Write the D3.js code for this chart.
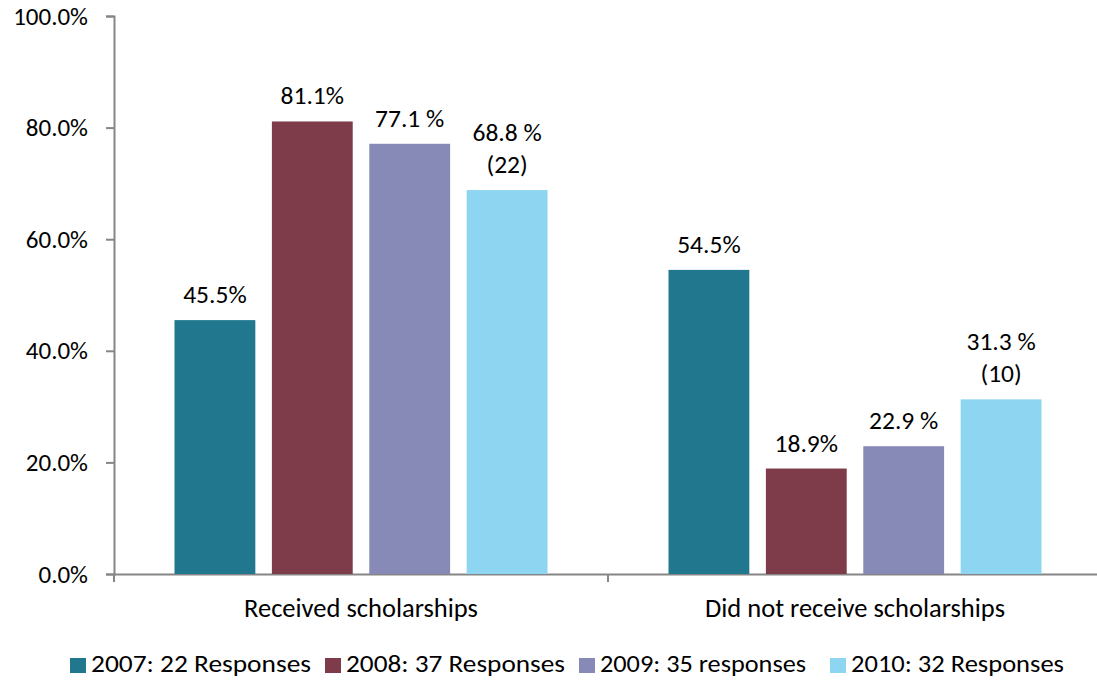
<!DOCTYPE html>
<html>
<head>
<meta charset="utf-8">
<script src="https://cdn.jsdelivr.net/npm/d3@7"></script>
<style>
  html, body { margin: 0; padding: 0; background: #fff; }
  svg { display: block; }
  text { font-family: Carlito, Calibri, Lato, "Noto Sans", sans-serif; fill: #000; }
</style>
</head>
<body>
<svg id="chart" width="1097" height="681"></svg>
<script>
// Scholarship responses by year
const categories = ["Received scholarships", "Did not receive scholarships"];
const seriesNames = ["2007: 22 Responses", "2008: 37 Responses", "2009: 35 responses", "2010: 32 Responses"];
const seriesColors = ["#21788E", "#7E3C4B", "#878AB6", "#8DD5F0"];
const values2007 = [45.5, 54.5];
const values2008 = [81.1, 18.9];
const values2009 = [77.1, 22.9];
const values2010 = [68.8, 31.3];
const valueLabels2007 = [["45.5%"], ["54.5%"]];
const valueLabels2008 = [["81.1%"], ["18.9%"]];
const valueLabels2009 = [["77.1 %"], ["22.9 %"]];
const valueLabels2010 = [["68.8 %", "(22)"], ["31.3 %", "(10)"]];
const yTicks = [0, 20, 40, 60, 80, 100];

const series = [values2007, values2008, values2009, values2010];
const seriesLabels = [valueLabels2007, valueLabels2008, valueLabels2009, valueLabels2010];

const svg = d3.select("#chart");
const plotLeft = 114, plotRight = 1102, plotTop = 16, plotBottom = 574;
const fontStack = "Carlito, Calibri, Lato, sans-serif";

const x0 = d3.scaleBand().domain(categories).range([plotLeft, plotRight]).padding(0);
const x1 = d3.scaleBand().domain(d3.range(series.length))
  .range([60.5, x0.bandwidth() - 60.5]).paddingInner(0.17).paddingOuter(0);
const y = d3.scaleLinear().domain([0, 100]).range([plotBottom, plotTop]);

const axisColor = "#868686";

// Y axis
const yAxis = svg.append("g").attr("transform", `translate(${plotLeft},0)`)
  .call(d3.axisLeft(y).tickValues(yTicks).tickSize(8).tickPadding(18)
    .tickFormat(d => d.toFixed(1) + "%"));
yAxis.select(".domain").attr("stroke", axisColor).attr("stroke-width", 2);
yAxis.selectAll(".tick line").attr("stroke", axisColor).attr("stroke-width", 2);
yAxis.selectAll(".tick text").style("font-size", "25px").attr("fill", "#000")
  .style("font-family", fontStack);

// X axis
const xAxis = svg.append("g").attr("transform", `translate(0,${plotBottom})`)
  .call(d3.axisBottom(x0).tickSize(0));
xAxis.select(".domain").attr("stroke", axisColor).attr("stroke-width", 2);
xAxis.selectAll(".tick text").style("font-size", "26.5px").attr("fill", "#000")
  .style("font-family", fontStack)
  .attr("y", 43).attr("dy", 0);
// category separator ticks
svg.append("g").selectAll("line")
  .data([plotLeft, x0(categories[1])])
  .join("line")
  .attr("x1", d => d).attr("x2", d => d)
  .attr("y1", plotBottom).attr("y2", plotBottom + 8)
  .attr("stroke", axisColor).attr("stroke-width", 2);

// Bars with value labels
const groups = svg.append("g").selectAll("g")
  .data(categories)
  .join("g")
  .attr("transform", d => `translate(${x0(d)},0)`);

groups.each(function(cat, ci) {
  const g = d3.select(this);
  series.forEach((vals, si) => {
    const v = vals[ci];
    g.append("rect")
      .attr("x", x1(si))
      .attr("width", x1.bandwidth())
      .attr("y", y(v))
      .attr("height", y(0) - y(v))
      .attr("fill", seriesColors[si]);
    const lines = seriesLabels[si][ci];
    const t = g.append("text")
      .attr("text-anchor", "middle")
      .style("font-size", "25.5px");
    lines.forEach((ln, li) => {
      t.append("tspan")
        .attr("x", x1(si) + x1.bandwidth() / 2)
        .attr("y", y(v) - 17 - (lines.length - 1 - li) * 32)
        .text(ln);
    });
  });
});

// Legend
const legendX = [70, 325, 579, 830];
const legendTextW = [220, 219, 206, 213];
const legend = svg.append("g").selectAll("g")
  .data(seriesNames)
  .join("g")
  .attr("transform", (d, i) => `translate(${legendX[i]},658)`);
legend.append("rect").attr("width", 16).attr("height", 15)
  .attr("fill", (d, i) => seriesColors[i]);
legend.append("text")
  .attr("x", 21).attr("y", 14)
  .attr("textLength", (d, i) => legendTextW[i])
  .attr("lengthAdjust", "spacingAndGlyphs")
  .style("font-size", "25px")
  .text(d => d);
</script>
</body>
</html>
